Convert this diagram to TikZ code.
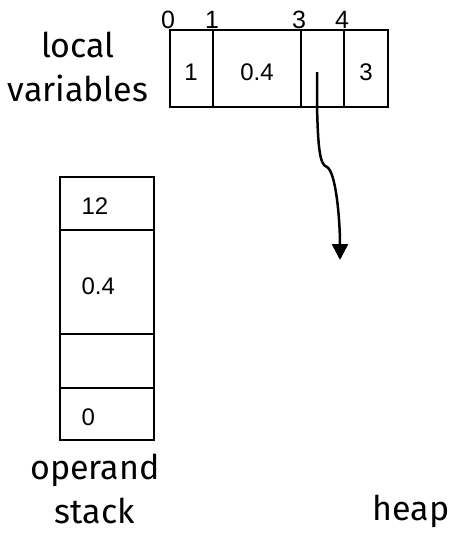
\documentclass[tikz,border=0pt]{standalone}
\usepackage{fontspec}
\setmainfont{Liberation Sans}
\newfontfamily\labelfont{Fira Sans}
\usetikzlibrary{arrows.meta}
\begin{document}
\begin{tikzpicture}[x=1pt,y=-1pt,
  cell/.style={draw,line width=2pt},
  celltext/.style={font=\fontsize{24}{26}\selectfont},
  idx/.style={font=\fontsize{25}{28}\selectfont,anchor=base,inner sep=0pt},
  caption/.style={font=\labelfont\fontsize{34}{40}\selectfont,anchor=base,inner sep=0pt}]
\useasboundingbox (0,0) rectangle (450,533);

% local variable slots
\draw[cell] (170,30) rectangle (388,107);
\draw[cell] (213,30) -- (213,107);
\draw[cell] (301,30) -- (301,107);
\draw[cell] (344,30) -- (344,107);
\node[celltext] (lv0) at (191,72) {1};
\node[celltext] (lv1) at (257,72) {0.4};
\coordinate (lv3) at (317,72);
\node[celltext] (lv4) at (366,72) {3};

% slot indices
\node[idx] (i0) at (168,28) {0};
\node[idx] (i1) at (212,28) {1};
\node[idx] (i3) at (299,28) {3};
\node[idx] (i4) at (342,28) {4};

\node[caption] (lvlabel1) at (78,57) {local};
\node[caption] (lvlabel2) at (78,101) {variables};

% operand stack
\draw[cell] (60,177) rectangle (154,440);
\draw[cell] (60,230) -- (154,230);
\draw[cell] (60,334) -- (154,334);
\draw[cell] (60,388) -- (154,388);
\node[celltext,anchor=west] (s0) at (78,206) {12};
\node[celltext,anchor=west] (s1) at (78,286) {0.4};
\node[celltext,anchor=west] (s3) at (78,417) {0};

\node[caption] (oslabel1) at (95,479) {operand};
\node[caption] (oslabel2) at (95,523) {stack};
\node[caption] (heaplabel) at (411,520) {heap};

% reference into the heap
\coordinate (target) at (340,260);
\draw[line width=2.5pt,-{Triangle[length=16pt,width=16pt]}]
  (lv3) -- (317,105)
  .. controls (318,150) and (320,165) .. (327,167)
  .. controls (336,172) and (340,220) .. (target);
\end{tikzpicture}
\end{document}
